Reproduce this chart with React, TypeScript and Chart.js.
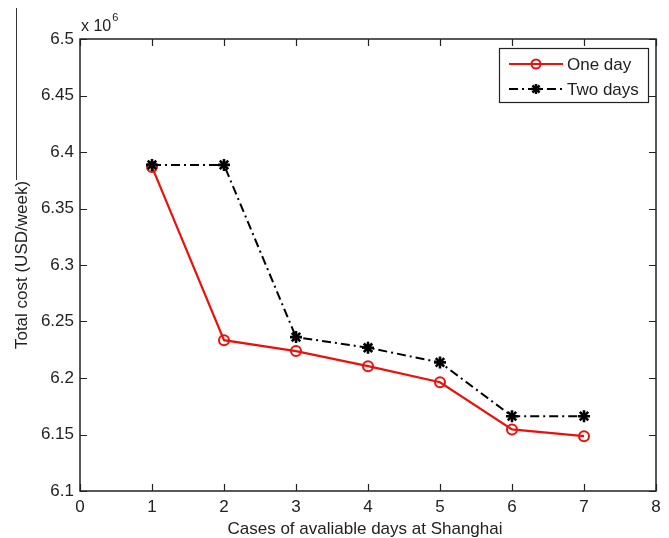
import React, { useEffect, useRef } from "react";
import { Chart, registerables } from "chart.js";

Chart.register(...registerables);

const xCases = [1, 2, 3, 4, 5, 6, 7];
const oneDay = [6.3868, 6.2335, 6.2238, 6.2105, 6.1962, 6.1545, 6.1485];
const twoDays = [6.3886, 6.3886, 6.2362, 6.2268, 6.2138, 6.1662, 6.1662];
const seriesNames = ["One day", "Two days"];
const xTitle = "Cases of avaliable days at Shanghai";
const yTitle = "Total cost (USD/week)";
const xMin = 0;
const xMax = 8;
const yMin = 6.1;
const yMax = 6.5;
const yStep = 0.05;
const exponentLabel = "6";

const FONT = "'Liberation Sans', Arial, Helvetica, sans-serif";

function drawStar(ctx: CanvasRenderingContext2D, x: number, y: number, r: number) {
  ctx.beginPath();
  ctx.moveTo(x - r, y);
  ctx.lineTo(x + r, y);
  ctx.moveTo(x, y - r);
  ctx.lineTo(x, y + r);
  const d = r * Math.SQRT1_2;
  ctx.moveTo(x - d, y - d);
  ctx.lineTo(x + d, y + d);
  ctx.moveTo(x - d, y + d);
  ctx.lineTo(x + d, y - d);
  ctx.stroke();
}

const decorPlugin = {
  id: "matlabDecor",
  afterDatasetsDraw(chart: any) {
    const ctx: CanvasRenderingContext2D = chart.ctx;
    const { left, right, top, bottom } = chart.chartArea;
    const xs = chart.scales.x;
    const ys = chart.scales.y;
    ctx.save();
    // axes box
    ctx.strokeStyle = "#222";
    ctx.lineWidth = 1.5;
    ctx.strokeRect(left, top, right - left, bottom - top);
    // inward ticks
    const tl = 7;
    ctx.lineWidth = 1.2;
    ctx.beginPath();
    for (let v = xMin; v <= xMax; v++) {
      const px = Math.round(xs.getPixelForValue(v)) + 0.5;
      ctx.moveTo(px, bottom);
      ctx.lineTo(px, bottom - tl);
      ctx.moveTo(px, top);
      ctx.lineTo(px, top + tl);
    }
    for (let i = 0; i <= Math.round((yMax - yMin) / yStep); i++) {
      const v = yMin + i * yStep;
      const py = Math.round(ys.getPixelForValue(v)) + 0.5;
      ctx.moveTo(left, py);
      ctx.lineTo(left + tl, py);
      ctx.moveTo(right, py);
      ctx.lineTo(right - tl, py);
    }
    ctx.stroke();

    // exponent label
    ctx.fillStyle = "#222";
    ctx.textBaseline = "alphabetic";
    ctx.textAlign = "left";
    ctx.font = `16px ${FONT}`;
    ctx.fillText("x 10", left + 1, top - 8);
    const w = ctx.measureText("x 10").width;
    ctx.font = `11px ${FONT}`;
    ctx.fillText(exponentLabel, left + 1 + w + 1, top - 18);

    // axis titles
    ctx.font = `17px ${FONT}`;
    ctx.textAlign = "center";
    ctx.textBaseline = "alphabetic";
    ctx.fillText(xTitle, (left + right) / 2 - 3, 534);
    ctx.textBaseline = "middle";
    ctx.save();
    ctx.translate(22, (top + bottom) / 2);
    ctx.rotate(-Math.PI / 2);
    ctx.fillText(yTitle, 0, 0);
    ctx.restore();

    // artifact frame line at left
    ctx.strokeStyle = "#333";
    ctx.lineWidth = 1;
    ctx.beginPath();
    ctx.moveTo(16.5, 8);
    ctx.lineTo(16.5, 180);
    ctx.stroke();

    // legend
    const bx = 499.5, by = 48.5, bw = 149, bh = 54;
    ctx.fillStyle = "#fff";
    ctx.fillRect(bx, by, bw, bh);
    ctx.strokeStyle = "#222";
    ctx.lineWidth = 1.2;
    ctx.strokeRect(bx, by, bw, bh);
    const ly1 = 64, ly2 = 89;
    const lx0 = 509, lx1 = 563, lmx = 536;
    // one day
    ctx.strokeStyle = "#e8120c";
    ctx.lineWidth = 2;
    ctx.setLineDash([]);
    ctx.beginPath();
    ctx.moveTo(lx0, ly1);
    ctx.lineTo(lx1, ly1);
    ctx.stroke();
    ctx.beginPath();
    ctx.arc(lmx, ly1, 4.5, 0, Math.PI * 2);
    ctx.stroke();
    // two days
    ctx.strokeStyle = "#000";
    ctx.setLineDash([9, 4, 2, 4]);
    ctx.beginPath();
    ctx.moveTo(lx0, ly2);
    ctx.lineTo(lx1, ly2);
    ctx.stroke();
    ctx.setLineDash([]);
    ctx.lineWidth = 2.4;
    drawStar(ctx, lmx, ly2, 5);
    ctx.fillStyle = "#222";
    ctx.font = `17px ${FONT}`;
    ctx.textAlign = "left";
    ctx.textBaseline = "middle";
    ctx.fillText(seriesNames[0], 567, ly1 + 1);
    ctx.fillText(seriesNames[1], 567, ly2 + 1);
    ctx.restore();
  },
};

export default function App() {
  const ref = useRef<HTMLCanvasElement | null>(null);
  useEffect(() => {
    if (!ref.current) return;
    const chart = new Chart(ref.current, {
      type: "line",
      data: {
        datasets: [
          {
            label: seriesNames[0],
            data: xCases.map((x, i) => ({ x, y: oneDay[i] })),
            borderColor: "#e8120c",
            borderWidth: 2.2,
            pointStyle: "circle",
            pointRadius: 5,
            pointBorderWidth: 2,
            pointBorderColor: "#e8120c",
            pointBackgroundColor: "rgba(0,0,0,0)",
            tension: 0,
            order: 1,
          },
          {
            label: seriesNames[1],
            data: xCases.map((x, i) => ({ x, y: twoDays[i] })),
            borderColor: "#000",
            borderWidth: 2,
            borderDash: [9, 4, 2, 4],
            pointStyle: "star",
            pointRadius: 6,
            pointBorderWidth: 2.6,
            pointBorderColor: "#000",
            pointBackgroundColor: "#000",
            tension: 0,
            order: 0,
          },
        ],
      },
      options: {
        animation: false,
        responsive: false,
        devicePixelRatio: 1,
        layout: { padding: { top: 39, right: 13, left: 0, bottom: 0 } },
        plugins: {
          legend: { display: false },
          tooltip: { enabled: false },
        },
        scales: {
          x: {
            type: "linear",
            min: xMin,
            max: xMax,
            grid: { display: false, drawTicks: false },
            border: { display: false },
            ticks: {
              stepSize: 1,
              padding: 6,
              color: "#222",
              font: { family: FONT, size: 17 },
              maxRotation: 0,
            },
            afterFit: (s: any) => {
              s.height = 47;
            },
          },
          y: {
            type: "linear",
            min: yMin,
            max: yMax,
            grid: { display: false, drawTicks: false },
            border: { display: false },
            ticks: {
              stepSize: yStep,
              padding: 6,
              color: "#222",
              font: { family: FONT, size: 17 },
              callback: (v: any) => String(Number(Number(v).toFixed(2))),
            },
            afterFit: (s: any) => {
              s.width = 80;
            },
          },
        },
      },
      plugins: [decorPlugin],
    });
    return () => chart.destroy();
  }, []);
  return (
    <div style={{ position: "absolute", left: 0, top: 0, width: 669, height: 538, background: "#fff" }}>
      <canvas ref={ref} width={669} height={538} style={{ display: "block" }} />
    </div>
  );
}
